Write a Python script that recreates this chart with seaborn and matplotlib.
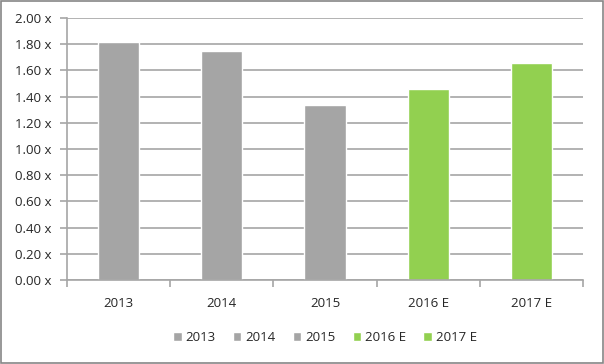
import pandas as pd
import matplotlib.pyplot as plt
import seaborn as sns
from matplotlib.ticker import MultipleLocator, FuncFormatter, FixedLocator, NullFormatter

sns.set_style('white')
plt.rcParams['font.family'] = ['Open Sans', 'DejaVu Sans']

years = ['2013', '2014', '2015', '2016 E', '2017 E']
multiples = [1.82, 1.75, 1.335, 1.46, 1.66]
bar_colors = ['#A5A5A5', '#A5A5A5', '#A5A5A5', '#92D050', '#92D050']

df = pd.DataFrame({'Year': years, 'Multiple': multiples})

fig = plt.figure(figsize=(6.04, 3.64), dpi=100)
ax = fig.add_axes([67 / 604, 1 - 280 / 364, (583 - 67) / 604, (280 - 18) / 364])

sns.barplot(data=df, x='Year', y='Multiple', hue='Year', palette=bar_colors,
            width=0.4, dodge=False, legend=True, saturation=1, ax=ax)

ax.set_ylim(0, 2.0)
ax.set_xlim(-0.5, 4.5)
ax.yaxis.set_major_locator(MultipleLocator(0.2))
ax.yaxis.set_major_formatter(FuncFormatter(lambda v, p: f'{v:.2f} x'))
ax.grid(axis='y', color='#A6A6A6', linewidth=1.2)
ax.set_axisbelow(True)

# category-boundary ticks on the x axis, labels at centers
ax.xaxis.set_major_locator(FixedLocator([-0.5, 0.5, 1.5, 2.5, 3.5, 4.5]))
ax.xaxis.set_major_formatter(NullFormatter())
ax.xaxis.set_minor_locator(FixedLocator(range(5)))
ax.set_xticklabels(years, minor=True)
ax.tick_params(axis='x', which='major', length=5, color='#A6A6A6', width=1.2, direction='out', bottom=True)
ax.tick_params(axis='x', which='minor', length=0, labelsize=9.5, pad=12, colors='#262626')
ax.tick_params(axis='y', length=5, color='#A6A6A6', width=1.2, direction='out', left=True,
               labelsize=9.5, labelcolor='#262626', pad=6)

for side in ['top', 'right']:
    ax.spines[side].set_visible(False)
for side in ['left', 'bottom']:
    ax.spines[side].set_color('#A6A6A6')
    ax.spines[side].set_linewidth(1.2)

ax.set_xlabel('')
ax.set_ylabel('')

handles, labels = ax.get_legend_handles_labels()
ax.legend(handles, labels, loc='center', bbox_to_anchor=(0.5, -0.22), ncol=5, frameon=False,
          fontsize=9.5, handlelength=0.65, handleheight=0.65, handletextpad=0.3, columnspacing=1.3,
          labelcolor='#262626')

# outer chart border
fig.patches.append(plt.Rectangle((0.0015, 0.002), 0.997, 0.995, transform=fig.transFigure,
                                 fill=False, edgecolor='#868686', linewidth=1.2))

fig.savefig('out.png', dpi=100)
